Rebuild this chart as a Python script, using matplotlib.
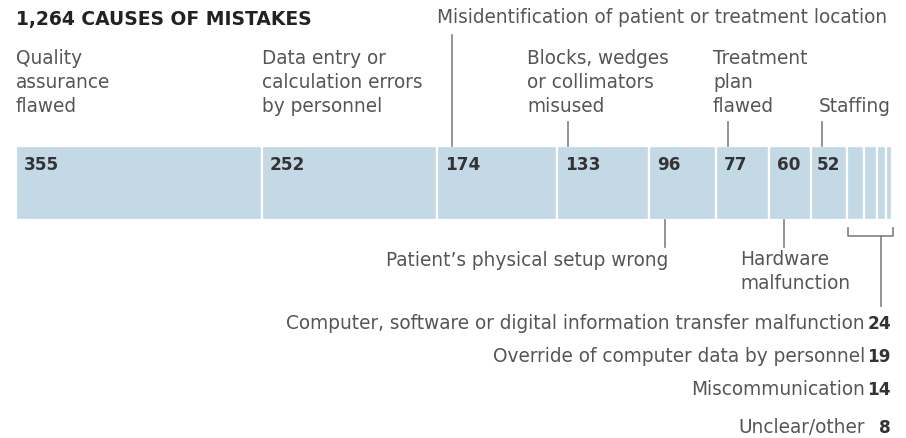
import matplotlib
matplotlib.use("Agg")
import matplotlib.pyplot as plt
import numpy as np

plt.rcParams['font.family'] = ['DejaVu Sans']

title = "1,264 CAUSES OF MISTAKES"
causes = [
    "Quality\nassurance\nflawed",
    "Data entry or\ncalculation errors\nby personnel",
    "Misidentification of patient or treatment location",
    "Blocks, wedges\nor collimators\nmisused",
    "Patient\u2019s physical setup wrong",
    "Treatment\nplan\nflawed",
    "Hardware\nmalfunction",
    "Staffing",
    "Computer, software or digital information transfer malfunction",
    "Override of computer data by personnel",
    "Miscommunication",
    "Unclear/other",
]
counts = [355, 252, 174, 133, 96, 77, 60, 52, 24, 19, 14, 8]

W, H = 906, 438
fig = plt.figure(figsize=(W / 100, H / 100), dpi=100)
ax = fig.add_axes([0, 0, 1, 1])
total = sum(counts)
x0_px, x1_px = 16, 892
scale = (x1_px - x0_px) / total  # px per unit
ax.set_xlim(-x0_px / scale, total + (W - x1_px) / scale)
ax.set_ylim(H, 0)
ax.axis('off')

def px(d):
    return d / scale

starts = np.concatenate([[0], np.cumsum(counts)[:-1]])
bar_c, bar_h = 183, 74
ax.barh(bar_c, counts, left=starts, height=bar_h, color='#c3d9e6',
        edgecolor='white', linewidth=1.6)

label_col = '#555555'
num_col = '#333333'
line_col = '#808080'
fs = 13.35
nfs = 12.2
ls = 1.32

# title
ax.text(px(0), 19, title, fontsize=13.5, fontweight='bold', color='#222222',
        va='center', ha='left')

# numbers inside bar (first 8)
for i in range(8):
    ax.text(starts[i] + px(8 if i < 7 else 6), 165, str(counts[i]), fontsize=nfs,
            fontweight='bold', color=num_col, va='center', ha='left')

# labels above
top_left = {0: 0, 1: 0, 3: -30, 5: -3, 7: 8}
for i, off in top_left.items():
    ax.text(starts[i] + px(off), 112, causes[i], fontsize=fs, color=label_col,
            va='baseline', ha='left', linespacing=ls)

# leader lines above
above_lines = {2: (15, 35), 3: (11, 122), 5: (12, 122), 7: (11, 122)}
for i, (off, ytop) in above_lines.items():
    x = starts[i] + px(off)
    ax.plot([x, x], [ytop, bar_c - bar_h / 2], color=line_col, lw=1.2)

# Misidentification label
ax.text(starts[2] + px(0), 23, causes[2], fontsize=fs, color=label_col,
        va='baseline', ha='left')

# below lines
below = {4: 16, 6: 15}
for i, off in below.items():
    x = starts[i] + px(off)
    ax.plot([x, x], [bar_c + bar_h / 2, 247], color=line_col, lw=1.2)
ax.text(starts[4] + px(19), 266, causes[4], fontsize=fs, color=label_col,
        va='baseline', ha='right')
ax.text(starts[6] - px(29), 289, causes[6], fontsize=fs, color=label_col,
        va='baseline', ha='left', linespacing=ls)

# bracket for small ones
bx0 = starts[8] + px(1)
bx1 = total + px(1)
by0, by1 = 228, 236
ax.plot([bx0, bx0, bx1, bx1], [by0, by1, by1, by0], color=line_col, lw=1.2)
bm = total - px(11)
ax.plot([bm, bm], [by1, 306], color=line_col, lw=1.2)

# bottom list
rows_y = [329, 362, 395, 433]
for i, yy in zip(range(8, 12), rows_y):
    ax.text(total - px(27), yy, causes[i], fontsize=fs, color=label_col,
            va='baseline', ha='right')
    ax.text(total - px(1), yy, str(counts[i]), fontsize=nfs, fontweight='bold',
            color=num_col, va='baseline', ha='right')

fig.savefig('out.png', dpi=100, facecolor='white')
